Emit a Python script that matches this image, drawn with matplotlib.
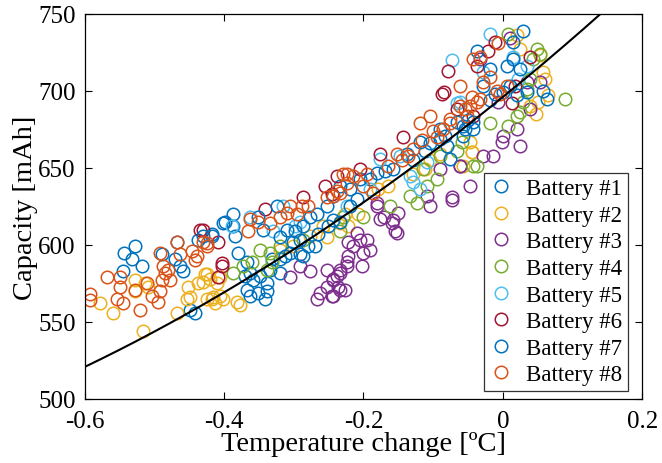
import numpy as np
import matplotlib
matplotlib.use('Agg')
import matplotlib.pyplot as plt

plt.rcParams['font.family'] = ['Liberation Serif', 'DejaVu Serif']
plt.rcParams['mathtext.fontset'] = 'stix'

# Battery #1
b1_x = [-0.543, -0.528, -0.532, -0.518, -0.545, -0.489, -0.468, -0.471, -0.463, -0.459,
        -0.438, -0.418, -0.402, -0.449, -0.442, -0.399, -0.387, -0.387, -0.384, -0.380,
        -0.367, -0.363, -0.358, -0.370, -0.367, -0.363, -0.351, -0.341, -0.339, -0.339,
        -0.349, -0.334, -0.331, -0.320, -0.320, -0.244, -0.234, -0.219, -0.205, -0.191,
        -0.180, -0.169, -0.157, -0.137, -0.129, -0.119, -0.111, -0.104, -0.090, -0.083]
b1_y = [595, 599, 591, 586, 583, 594, 602, 591, 586, 583,
        603, 607, 614, 558, 556, 615, 612, 620, 606, 595,
        589, 582, 577, 580, 571, 567, 569, 565, 570, 575,
        580, 584, 591, 591, 582, 632, 638, 636, 643, 643,
        647, 648, 649, 659, 655, 667, 661, 666, 669, 671]

# Battery #2
b2_x = [-0.578, -0.560, -0.528, -0.528, -0.514, -0.509, -0.517, -0.468, -0.453, -0.449,
        -0.452, -0.438, -0.425, -0.420, -0.418, -0.413, -0.406, -0.402, -0.410, -0.406,
        -0.430, -0.425, -0.416, -0.428, -0.382, -0.377, -0.320, -0.301, -0.277, -0.252,
        -0.258, -0.234, -0.226, -0.222, -0.208, -0.179, -0.165, -0.129, -0.111, -0.104,
        -0.057, -0.044, 0.021, 0.025, 0.054, 0.058, 0.061, 0.065, 0.051, 0.047,
        0.039, -0.047, -0.044, -0.090]
b2_y = [562, 556, 577, 570, 575, 573, 544, 556, 565, 566,
        573, 575, 581, 578, 565, 562, 567, 565, 575, 579,
        576, 565, 566, 581, 563, 561, 597, 599, 606, 605,
        612, 614, 620, 612, 620, 636, 638, 646, 649, 655,
        651, 660, 736, 727, 723, 712, 708, 697, 693, 685,
        690, 667, 660, 659]

# Battery #3
b3_x = [-0.209, -0.205, -0.215, -0.195, -0.191, -0.200, -0.222, -0.224, -0.202, -0.234,
        -0.238, -0.244, -0.236, -0.226, -0.244, -0.180, -0.176, -0.159, -0.155, -0.150,
        -0.073, -0.305, -0.291, -0.277, -0.252, -0.262, -0.252, -0.244, -0.234, -0.224,
        -0.222, -0.267, -0.245, -0.234, -0.180, -0.171, -0.157, -0.152, -0.109, -0.104,
        -0.061, -0.047, -0.073, -0.090, 0.001, -0.001, 0.021, 0.025, -0.014, -0.028,
        -0.061, -0.032, 0.011, 0.039, 0.054, 0.035, -0.007]
b3_y = [608, 603, 599, 603, 597, 595, 593, 589, 586, 584,
        580, 577, 573, 571, 567, 625, 617, 614, 609, 621,
        629, 579, 586, 583, 584, 569, 573, 578, 582, 586,
        602, 565, 567, 571, 627, 618, 616, 608, 632, 625,
        651, 638, 631, 649, 671, 667, 675, 664, 658, 658,
        651, 721, 734, 688, 706, 706, 693]

# Battery #4
b4_x = [-0.387, -0.360, -0.349, -0.334, -0.331, -0.320, -0.287, -0.234, -0.339, -0.373,
        -0.229, -0.200, -0.162, -0.133, -0.123, -0.109, -0.114, -0.094, -0.090, -0.066,
        -0.058, -0.043, -0.018, 0.008, 0.021, 0.025, 0.035, 0.039, 0.044, 0.049,
        0.054, 0.008, 0.090, -0.037, 0.029]
b4_y = [582, 589, 597, 595, 589, 599, 603, 609, 584, 586,
        618, 618, 625, 632, 627, 638, 649, 643, 658, 661,
        667, 651, 679, 677, 684, 686, 701, 708, 721, 727,
        724, 737, 695, 651, 693]

# Battery #5
b5_x = [-0.389, -0.315, -0.298, -0.291, -0.330, -0.363, -0.066, -0.176, -0.147, -0.133,
        -0.129, -0.119, -0.109, -0.224, -0.191, -0.018, -0.073, -0.061, -0.028, 0.035,
        0.014, 0.022]
b5_y = [612, 625, 612, 615, 609, 618, 692, 656, 658, 645,
        641, 636, 654, 625, 636, 737, 720, 693, 712, 716,
        722, 708]

# Battery #6
b6_x = [-0.435, -0.409, -0.403, -0.409, -0.430, -0.403, -0.341, -0.287, -0.255, -0.245,
        -0.205, -0.176, -0.143, -0.087, -0.066, -0.238, -0.078, -0.085, -0.011, -0.021,
        0.039, 0.013, -0.043, 0.018, -0.037]
b6_y = [610, 602, 586, 579, 610, 588, 623, 631, 638, 633,
        649, 659, 670, 698, 688, 645, 713, 699, 732, 726,
        722, 692, 684, 703, 716]

# Battery #7
b7_x = [-0.313, -0.305, -0.291, -0.287, -0.280, -0.270, -0.265, -0.301, -0.291, -0.287,
        -0.277, -0.267, -0.252, -0.251, -0.244, -0.320, -0.310, -0.298, -0.324, -0.344,
        -0.351, -0.430, -0.418, -0.066, -0.057, -0.050, -0.043, -0.234, -0.219, -0.209,
        0.029, 0.015, -0.037, -0.018, -0.028, -0.018, -0.011, 0.001, 0.011, 0.021,
        0.015, 0.006, 0.025, 0.058, 0.064, 0.035, -0.043, -0.054, -0.057, -0.090,
        -0.080, -0.076]
b7_y = [593, 595, 594, 593, 599, 599, 607, 602, 603, 612,
        618, 620, 625, 612, 616, 605, 610, 609, 625, 610,
        618, 606, 606, 680, 677, 681, 675, 615, 625, 630,
        739, 732, 726, 714, 703, 694, 698, 699, 703, 697,
        721, 716, 714, 700, 695, 699, 680, 675, 671, 675,
        664, 656]

# Battery #8
b8_x = [-0.593, -0.593, -0.568, -0.550, -0.550, -0.554, -0.545, -0.528, -0.521, -0.511,
        -0.504, -0.495, -0.492, -0.489, -0.485, -0.481, -0.478, -0.492, -0.468, -0.463,
        -0.446, -0.442, -0.439, -0.430, -0.425, -0.488, -0.425, -0.366, -0.363, -0.351,
        -0.334, -0.320, -0.310, -0.305, -0.295, -0.288, -0.280, -0.252, -0.244, -0.234,
        -0.224, -0.224, -0.238, -0.229, -0.215, -0.200, -0.195, -0.186, -0.165, -0.152,
        -0.145, -0.136, -0.129, -0.119, -0.116, -0.104, -0.100, -0.094, -0.086, -0.076,
        -0.054, -0.044, -0.061, -0.043, -0.032, -0.028, -0.018, -0.007, -0.008, 0.006,
        -0.004, -0.047, -0.061, -0.076, -0.051, -0.037, -0.032]
b8_y = [568, 564, 579, 579, 573, 565, 562, 571, 558, 575,
        567, 563, 570, 577, 582, 584, 577, 595, 602, 594,
        596, 590, 593, 602, 599, 586, 601, 609, 617, 615,
        614, 618, 621, 625, 620, 625, 625, 631, 632, 634,
        640, 646, 635, 646, 645, 638, 646, 634, 651, 659,
        655, 658, 662, 679, 668, 684, 674, 670, 675, 679,
        688, 696, 703, 721, 722, 706, 709, 731, 700, 703,
        698, 690, 690, 682, 684, 693, 695]

series = [
    ('Battery #1', b1_x, b1_y, '#0072BD'),
    ('Battery #2', b2_x, b2_y, '#EDB120'),
    ('Battery #3', b3_x, b3_y, '#7E2F8E'),
    ('Battery #4', b4_x, b4_y, '#77AC30'),
    ('Battery #5', b5_x, b5_y, '#4DBEEE'),
    ('Battery #6', b6_x, b6_y, '#A2142F'),
    ('Battery #7', b7_x, b7_y, '#0072BD'),
    ('Battery #8', b8_x, b8_y, '#D95319'),
]

# fitted curve (quadratic), coefficients
fit_coef = [125, 367, 696]

fig = plt.figure(figsize=(6.62, 4.64), dpi=100)
ax = fig.add_axes([0.128, 0.138, 0.842, 0.830])

for name, xs, ys, col in series:
    ax.plot(xs, ys, 'o', mfc='none', mec=col, ms=9, mew=1.1, label=name)

xf = np.linspace(-0.6, 0.2, 200)
ax.plot(xf, np.polyval(fit_coef, xf), color='black', lw=1.5)

ax.set_xlim(-0.6, 0.2)
ax.set_ylim(500, 750)
ax.set_xticks([-0.6, -0.4, -0.2, 0, 0.2])
ax.set_xticklabels(['-0.6', '-0.4', '-0.2', '0', '0.2'])
ax.set_yticks([500, 550, 600, 650, 700, 750])
ax.tick_params(direction='in', top=True, right=True, labelsize=18, length=5, width=0.8)
ax.tick_params(axis='x', pad=8)
ax.tick_params(axis='y', pad=6.5)
for s in ax.spines.values():
    s.set_linewidth(0.9)

ax.set_xlabel('Temperature change [ºC]', fontsize=20.5, labelpad=-1)
ax.set_ylabel('Capacity [mAh]', fontsize=20.5, labelpad=0)

leg = ax.legend(loc='lower right', bbox_to_anchor=(0.975, 0.021), fontsize=16.5,
                frameon=True, fancybox=False, edgecolor='black', borderaxespad=0,
                handletextpad=0.6, labelspacing=0.24, borderpad=0.25, handlelength=1.0)
leg.get_frame().set_linewidth(0.9)

fig.savefig('out.png', dpi=100)
